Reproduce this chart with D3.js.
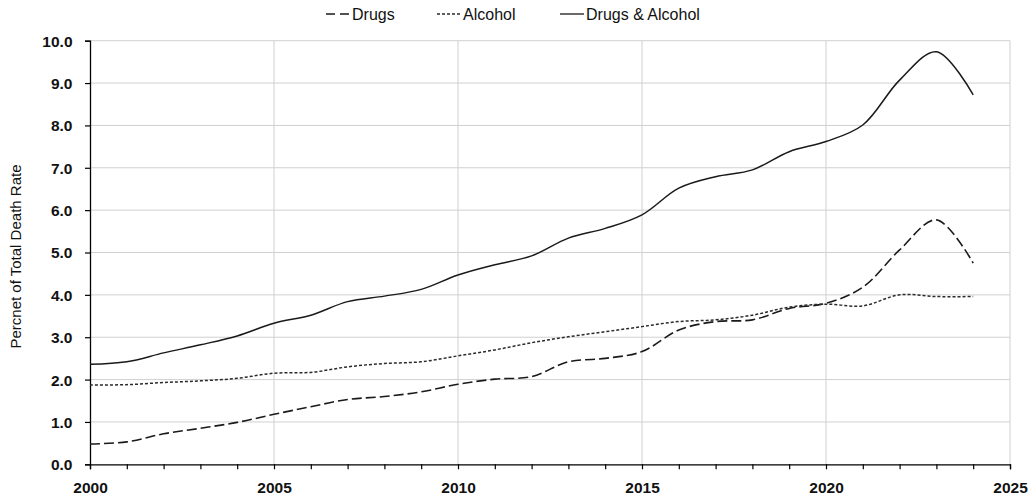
<!DOCTYPE html>
<html>
<head>
<meta charset="utf-8">
<script src="https://cdn.jsdelivr.net/npm/d3@7"></script>
<style>
  html, body { margin: 0; padding: 0; background: #fff; }
  svg { display: block; }
</style>
</head>
<body>
<svg id="chart" width="1033" height="500"></svg>
<script>
const years = [2000,2001,2002,2003,2004,2005,2006,2007,2008,2009,2010,2011,2012,2013,2014,2015,2016,2017,2018,2019,2020,2021,2022,2023,2024];
const drugs = [0.48,0.53,0.72,0.85,0.99,1.18,1.36,1.53,1.60,1.71,1.89,2.01,2.07,2.42,2.50,2.66,3.17,3.37,3.41,3.68,3.80,4.18,5.06,5.77,4.75];
const alcohol = [1.87,1.88,1.93,1.97,2.03,2.15,2.17,2.30,2.38,2.42,2.56,2.70,2.87,3.01,3.13,3.25,3.37,3.41,3.52,3.71,3.78,3.74,4.00,3.96,3.96];
const drugsAlcohol = [2.36,2.42,2.63,2.82,3.03,3.33,3.52,3.84,3.97,4.13,4.47,4.71,4.92,5.34,5.57,5.89,6.52,6.79,6.95,7.38,7.62,8.01,9.07,9.74,8.72];
const seriesNames = ["Drugs","Alcohol","Drugs & Alcohol"];
const xTicks = [2000,2005,2010,2015,2020,2025];
const yTicks = [0,1,2,3,4,5,6,7,8,9,10];
const yTitle = "Percnet of Total Death Rate";

(function () {
const svg = d3.select("#chart");
const mLeft = 90, mRight = 1010, mTop = 40.7, mBottom = 464.3;
const font = "'Liberation Sans', Arial, sans-serif";

const x = d3.scaleLinear().domain([2000, 2025]).range([mLeft, mRight]);
const y = d3.scaleLinear().domain([0, 10]).range([mBottom, mTop]);

// grid
const grid = svg.append("g");
grid.selectAll("line.h").data(yTicks.filter(d => d > 0)).join("line")
  .attr("x1", mLeft).attr("x2", mRight)
  .attr("y1", d => y(d)).attr("y2", d => y(d))
  .attr("stroke", "#d0d0d0").attr("stroke-width", 1);
grid.selectAll("line.v").data(xTicks.filter(d => d > 2000)).join("line")
  .attr("x1", d => x(d)).attr("x2", d => x(d))
  .attr("y1", mTop).attr("y2", mBottom)
  .attr("stroke", "#d0d0d0").attr("stroke-width", 1);

// axes
const xAxis = d3.axisBottom(x).tickValues(d3.range(2000, 2026)).tickSize(5)
  .tickFormat(d => xTicks.includes(d) ? d : "");
const gx = svg.append("g").attr("transform", `translate(0,${mBottom})`).call(xAxis);
gx.select(".domain").attr("stroke", "#000").attr("stroke-width", 1.3);
gx.selectAll(".tick line").attr("stroke", "#000").attr("stroke-width", 1.2);
gx.selectAll(".tick text").attr("font-family", font).attr("font-size", 15.5)
  .attr("font-weight", "bold").attr("fill", "#111").attr("dy", 0).attr("y", 29);

const yAxis = d3.axisLeft(y).tickValues(yTicks).tickSize(5).tickFormat(d3.format(".1f"));
const gy = svg.append("g").attr("transform", `translate(${mLeft},0)`).call(yAxis);
gy.select(".domain").attr("stroke", "#000").attr("stroke-width", 1.3);
gy.selectAll(".tick line").attr("stroke", "#000").attr("stroke-width", 1.2);
gy.selectAll(".tick text").attr("font-family", font).attr("font-size", 15.5)
  .attr("font-weight", "bold").attr("fill", "#111").attr("x", -17.5).attr("dy", "0.35em");

// y title
svg.append("text")
  .attr("transform", `translate(21,${(mTop + mBottom) / 2 + 4}) rotate(-90)`)
  .attr("text-anchor", "middle")
  .attr("font-family", font).attr("font-size", 15).attr("fill", "#111")
  .text(yTitle);

// lines
const line = d3.line().x((d, i) => x(years[i])).y(d => y(d)).curve(d3.curveCatmullRom.alpha(0.5));
const styles = [
  { data: drugs, dash: "10,4", width: 1.6, color: "#1a1a1a" },
  { data: alcohol, dash: "3,2", width: 1.5, color: "#2a2a2a" },
  { data: drugsAlcohol, dash: null, width: 1.5, color: "#1a1a1a" }
];
styles.forEach(s => {
  svg.append("path").datum(s.data).attr("d", line)
    .attr("fill", "none").attr("stroke", s.color).attr("stroke-width", s.width)
    .attr("stroke-dasharray", s.dash);
});

// legend
const legendX = [326, 437, 560];
const lg = svg.append("g");
styles.forEach((s, i) => {
  lg.append("line").attr("x1", legendX[i]).attr("x2", legendX[i] + 24)
    .attr("y1", 14).attr("y2", 14)
    .attr("stroke", s.color).attr("stroke-width", 1.3).attr("stroke-dasharray", i === 0 ? "9,5" : s.dash);
  lg.append("text").attr("x", legendX[i] + 26).attr("y", 19.5)
    .attr("font-family", font).attr("font-size", 16).attr("fill", "#111")
    .text(seriesNames[i]);
});
})();
</script>
</body>
</html>
